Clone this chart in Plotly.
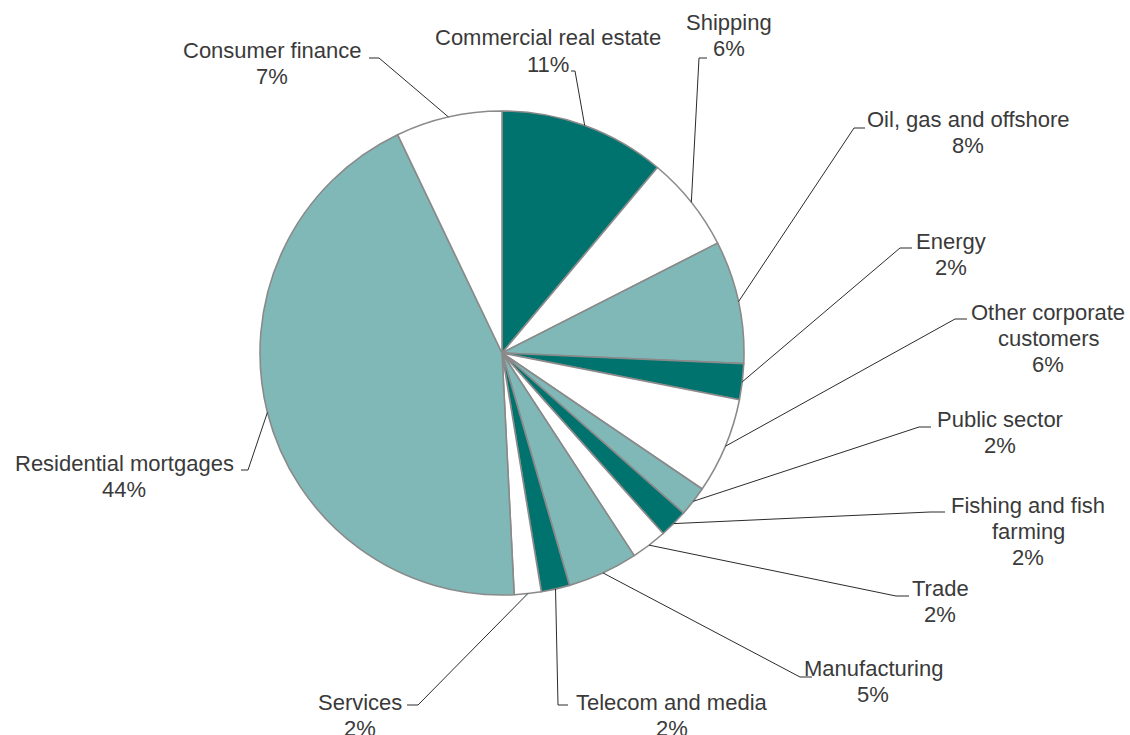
import math
import plotly.graph_objects as go

# Loan portfolio by sector, share of total (%), clockwise from 12 o'clock
sectors = [
    "Commercial real estate", "Shipping", "Oil, gas and offshore", "Energy",
    "Other corporate customers", "Public sector", "Fishing and fish farming",
    "Trade", "Manufacturing", "Telecom and media", "Services",
    "Residential mortgages", "Consumer finance",
]
shares = [11.1, 6.4, 8.2, 2.4, 6.4, 2.0, 1.9, 2.4, 4.7, 1.9, 1.8, 43.7, 7.1]

DARK = "#00736f"
LIGHT = "#80b8b8"
WHITE = "#ffffff"
slice_colors = [DARK, WHITE, LIGHT, DARK, WHITE, LIGHT, DARK, WHITE, LIGHT,
                DARK, WHITE, LIGHT, WHITE]

# Line breaks used when printing the sector names
wrapped = {
    "Other corporate customers": ["Other corporate", "customers"],
    "Fishing and fish farming": ["Fishing and fish", "farming"],
}

W, H = 1130, 735
CX, CY, R = 502, 353, 242          # pie centre / radius in pixels
LINE_GAP = 26                      # distance between label lines (px)

# Label placement: (centre x, first-line y), elbow point and stub end
label_layout = {
    "Commercial real estate":    ((548, 38),   (575, 71),   (571, 71)),
    "Shipping":                  ((729, 23),   (699, 58),   (707, 58)),
    "Oil, gas and offshore":     ((968, 120),  (854, 128),  (865, 128)),
    "Energy":                    ((951, 241),  (900, 248),  (912, 248)),
    "Other corporate customers": ((1048, 312), (955, 319),  (967, 319)),
    "Public sector":             ((1000, 419), (919, 427),  (931, 427)),
    "Fishing and fish farming":  ((1028, 505), (930, 512),  (945, 512)),
    "Trade":                     ((940, 588),  (896, 596),  (909, 596)),
    "Manufacturing":             ((873, 668),  (800, 677),  (812, 677)),
    "Telecom and media":         ((672, 702),  (558, 705),  (568, 705)),
    "Services":                  ((360, 702),  (418, 705),  (407, 705)),
    "Residential mortgages":     ((124, 463),  (248, 470),  (241, 470)),
    "Consumer finance":          ((272, 51),   (379, 58),   (369, 58)),
}


def px(x):
    return x / W


def py(y):
    return 1 - y / H


fig = go.Figure(
    go.Pie(
        labels=sectors,
        values=shares,
        sort=False,
        direction="clockwise",
        rotation=0,
        marker=dict(colors=slice_colors, line=dict(color="#8a8a8a", width=1.6)),
        textinfo="none",
        hoverinfo="label+percent",
        domain=dict(x=[px(CX - R), px(CX + R)], y=[py(CY + R), py(CY - R)]),
        showlegend=False,
    )
)

shapes = []
annotations = []
total = sum(shares)
cum = 0.0
for name, val in zip(sectors, shares):
    mid = (cum + val / 2) / total
    cum += val
    ang = 2 * math.pi * mid
    ax = CX + R * math.sin(ang)
    ay = CY - R * math.cos(ang)
    (lx, ly), (ex, ey), (sx, sy) = label_layout[name]
    shapes.append(dict(
        type="path",
        xref="paper", yref="paper",
        path=f"M {px(ax)},{py(ay)} L {px(ex)},{py(ey)} L {px(sx)},{py(sy)}",
        line=dict(color="#2b2b2b", width=1),
    ))
    lines = wrapped.get(name, [name]) + [f"{round(val / total * 100)}%"]
    for i, txt in enumerate(lines):
        annotations.append(dict(
            x=px(lx), y=py(ly + i * LINE_GAP),
            xref="paper", yref="paper",
            text=txt, showarrow=False,
            xanchor="center", yanchor="middle",
            font=dict(family="Liberation Sans, Arial, sans-serif",
                      size=22, color="#3a3a3a"),
        ))

fig.update_layout(
    width=W, height=H,
    margin=dict(l=0, r=0, t=0, b=0),
    paper_bgcolor="white",
    plot_bgcolor="white",
    shapes=shapes,
    annotations=annotations,
)

fig.write_html("out.html")
